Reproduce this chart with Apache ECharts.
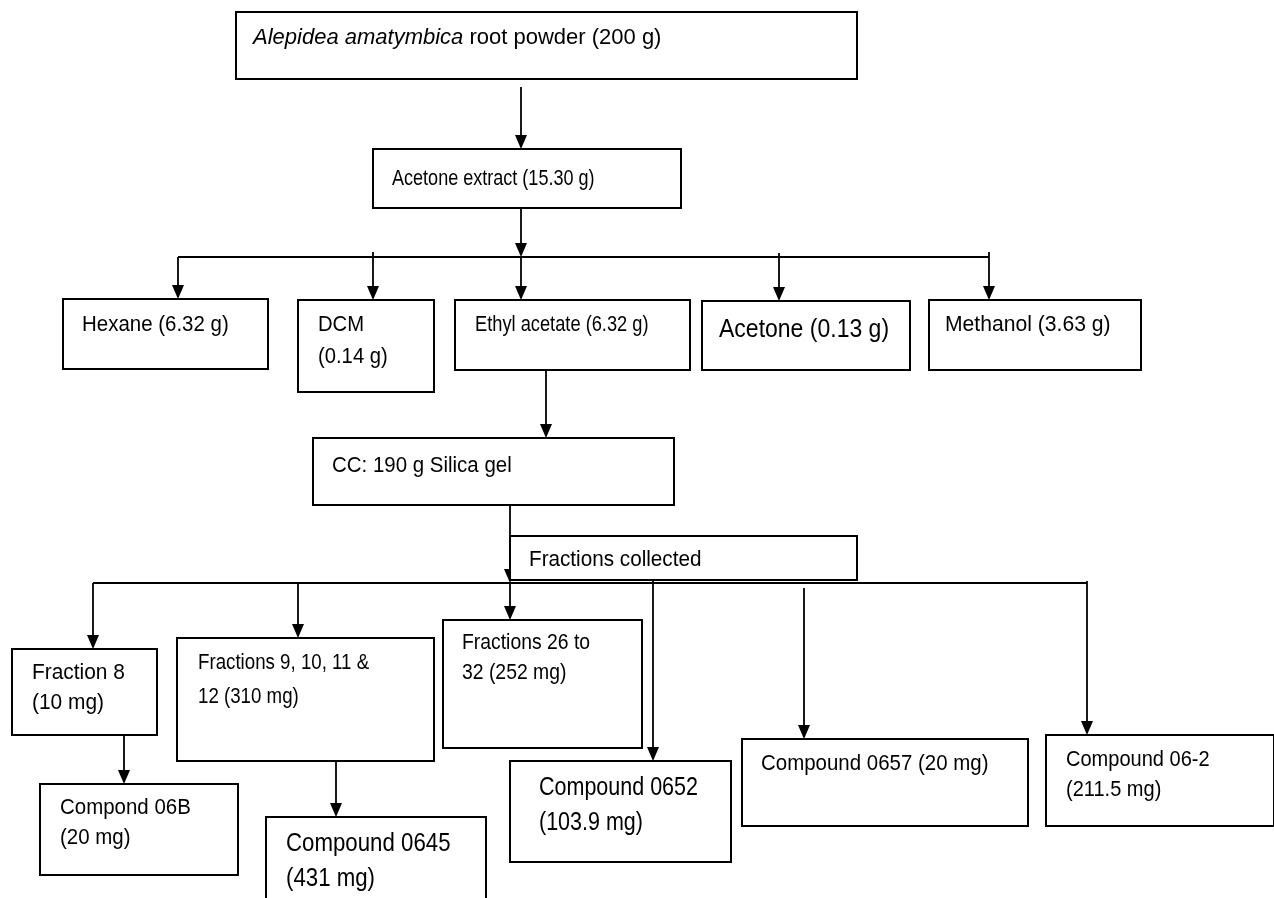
<!DOCTYPE html>
<html>
<head>
<meta charset="utf-8">
<script src="https://cdn.jsdelivr.net/npm/echarts@6/dist/echarts.min.js"></script>
<style>
html,body{margin:0;padding:0;background:#fff;}
#chart{width:1274px;height:898px;}
</style>
</head>
<body>
<div id="chart"></div>
<script>
// ---- content (text of each step in the flow) ----
const nodeLines = [
  ['{i|Alepidea amatymbica} root powder (200 g)'],
  ['Acetone extract (15.30 g)'],
  ['Hexane (6.32 g)'],
  ['DCM', '(0.14 g)'],
  ['Ethyl acetate (6.32 g)'],
  ['Acetone (0.13 g)'],
  ['Methanol (3.63 g)'],
  ['CC: 190 g Silica gel'],
  ['Fractions collected'],
  ['Fraction 8', '(10 mg)'],
  ['Fractions 9, 10, 11 &', '12 (310 mg)'],
  ['Fractions 26 to', '32 (252 mg)'],
  ['Compond 06B', '(20 mg)'],
  ['Compound 0645', '(431 mg)'],
  ['Compound 0652', '(103.9 mg)'],
  ['Compound 0657 (20 mg)'],
  ['Compound 06-2', '(211.5 mg)']
];

// ---- layout (pixel space of the flow diagram) ----
// box: [x1, y1, x2, y2]
const nodeBox = [
  [236, 12, 857, 79],
  [373, 149, 681, 208],
  [63, 299, 268, 369],
  [298, 300, 434, 392],
  [455, 300, 690, 370],
  [702, 301, 910, 370],
  [929, 300, 1141, 370],
  [313, 438, 674, 505],
  [510, 536, 857, 580],
  [12, 649, 157, 735],
  [177, 638, 434, 761],
  [443, 620, 642, 748],
  [40, 784, 238, 875],
  [266, 817, 486, 905],
  [510, 761, 731, 862],
  [742, 739, 1028, 826],
  [1046, 735, 1274, 826]
];
// text anchor: [left x, first line centre y, font size, horizontal squeeze, line gap]
const nodeTextPos = [
  [253, 38, 22, 1.0, 30],
  [392, 179, 22, 0.82, 30],
  [82, 325, 22, 0.93, 30],
  [318, 325, 22, 0.92, 32],
  [475, 325, 22, 0.83, 30],
  [719, 330, 25, 0.92, 30],
  [945, 325, 22, 0.96, 30],
  [332, 466, 22, 0.93, 30],
  [529, 560, 22, 0.94, 30],
  [32, 673, 22, 0.95, 30],
  [198, 663, 22, 0.85, 34],
  [462, 643, 22, 0.88, 30],
  [60, 808, 22, 0.93, 30],
  [286, 844, 25, 0.89, 35],
  [539, 788, 25, 0.86, 35],
  [761, 764, 22, 0.93, 30],
  [1066, 760, 22, 0.91, 30]
];
// connectors: polyline points, arrow head at last point
const connectors = [
  {pts: [[521, 87], [521, 149]], arrow: true},
  {pts: [[521, 208], [521, 257]], arrow: true},
  {pts: [[178, 257], [989, 257]], arrow: false},
  {pts: [[178, 257], [178, 299]], arrow: true},
  {pts: [[373, 252], [373, 300]], arrow: true},
  {pts: [[521, 257], [521, 300]], arrow: true},
  {pts: [[779, 253], [779, 301]], arrow: true},
  {pts: [[989, 252], [989, 300]], arrow: true},
  {pts: [[546, 370], [546, 438]], arrow: true},
  {pts: [[510, 505], [510, 583]], arrow: true},
  {pts: [[93, 583], [1087, 583]], arrow: false},
  {pts: [[93, 583], [93, 649]], arrow: true},
  {pts: [[298, 583], [298, 638]], arrow: true},
  {pts: [[510, 583], [510, 620]], arrow: true},
  {pts: [[653, 580], [653, 761]], arrow: true},
  {pts: [[804, 588], [804, 739]], arrow: true},
  {pts: [[1087, 581], [1087, 735]], arrow: true},
  {pts: [[124, 735], [124, 784]], arrow: true},
  {pts: [[336, 761], [336, 817]], arrow: true}
];

const FONT = "'Liberation Sans', Arial, sans-serif";

const chart = echarts.init(document.getElementById('chart'), null, {renderer: 'canvas'});

function renderConnector(params, api) {
  const c = connectors[params.dataIndex];
  const pts = c.pts.map(p => api.coord(p));
  const children = [];
  const linePts = pts.slice();
  if (c.arrow) {
    const tip = pts[pts.length - 1];
    const prev = pts[pts.length - 2];
    const dx = tip[0] - prev[0], dy = tip[1] - prev[1];
    const len = Math.sqrt(dx * dx + dy * dy) || 1;
    const ux = dx / len, uy = dy / len;
    const hl = 14, hw = 6;
    const bx = tip[0] - ux * hl, by = tip[1] - uy * hl;
    linePts[linePts.length - 1] = [bx + ux * 2, by + uy * 2];
    children.push({
      type: 'polygon',
      shape: {points: [[bx - uy * hw, by + ux * hw], [bx + uy * hw, by - ux * hw], tip]},
      style: {fill: '#000', stroke: null}
    });
  }
  children.unshift({
    type: 'polyline',
    shape: {points: linePts},
    style: {stroke: '#000', lineWidth: 1.8, fill: null}
  });
  return {type: 'group', children: children};
}

function renderNode(params, api) {
  const i = params.dataIndex;
  const b = nodeBox[i];
  const p1 = api.coord([b[0], b[1]]);
  const p2 = api.coord([b[2], b[3]]);
  const t = nodeTextPos[i];
  const tp = api.coord([t[0], t[1]]);
  const children = [{
    type: 'rect',
    shape: {x: p1[0], y: p1[1], width: p2[0] - p1[0], height: p2[1] - p1[1]},
    style: {fill: '#fff', stroke: '#000', lineWidth: 2}
  }];
  nodeLines[i].forEach((line, k) => {
    children.push({
      type: 'text',
      x: tp[0],
      y: tp[1] + k * t[4],
      scaleX: t[3],
      style: {
        text: line,
        x: 0, y: 0,
        fill: '#000',
        fontSize: t[2],
        fontFamily: FONT,
        align: 'left',
        verticalAlign: 'middle',
        rich: {
          i: {fontStyle: 'italic', fontSize: t[2], fontFamily: FONT, fill: '#000'}
        }
      }
    });
  });
  return {type: 'group', children: children};
}

chart.setOption({
  animation: false,
  backgroundColor: '#fff',
  grid: {left: 0, right: 0, top: 0, bottom: 0},
  xAxis: {type: 'value', min: 0, max: 1274, show: false},
  yAxis: {type: 'value', min: 0, max: 898, inverse: true, show: false},
  series: [
    {
      type: 'custom',
      name: 'connectors',
      clip: false,
      silent: true,
      z: 1,
      data: connectors.map(c => [c.pts[0][0], c.pts[0][1]]),
      renderItem: renderConnector
    },
    {
      type: 'custom',
      name: 'steps',
      clip: false,
      silent: true,
      z: 2,
      data: nodeBox.map(b => [b[0], b[1]]),
      renderItem: renderNode
    }
  ]
});
</script>
</body>
</html>
